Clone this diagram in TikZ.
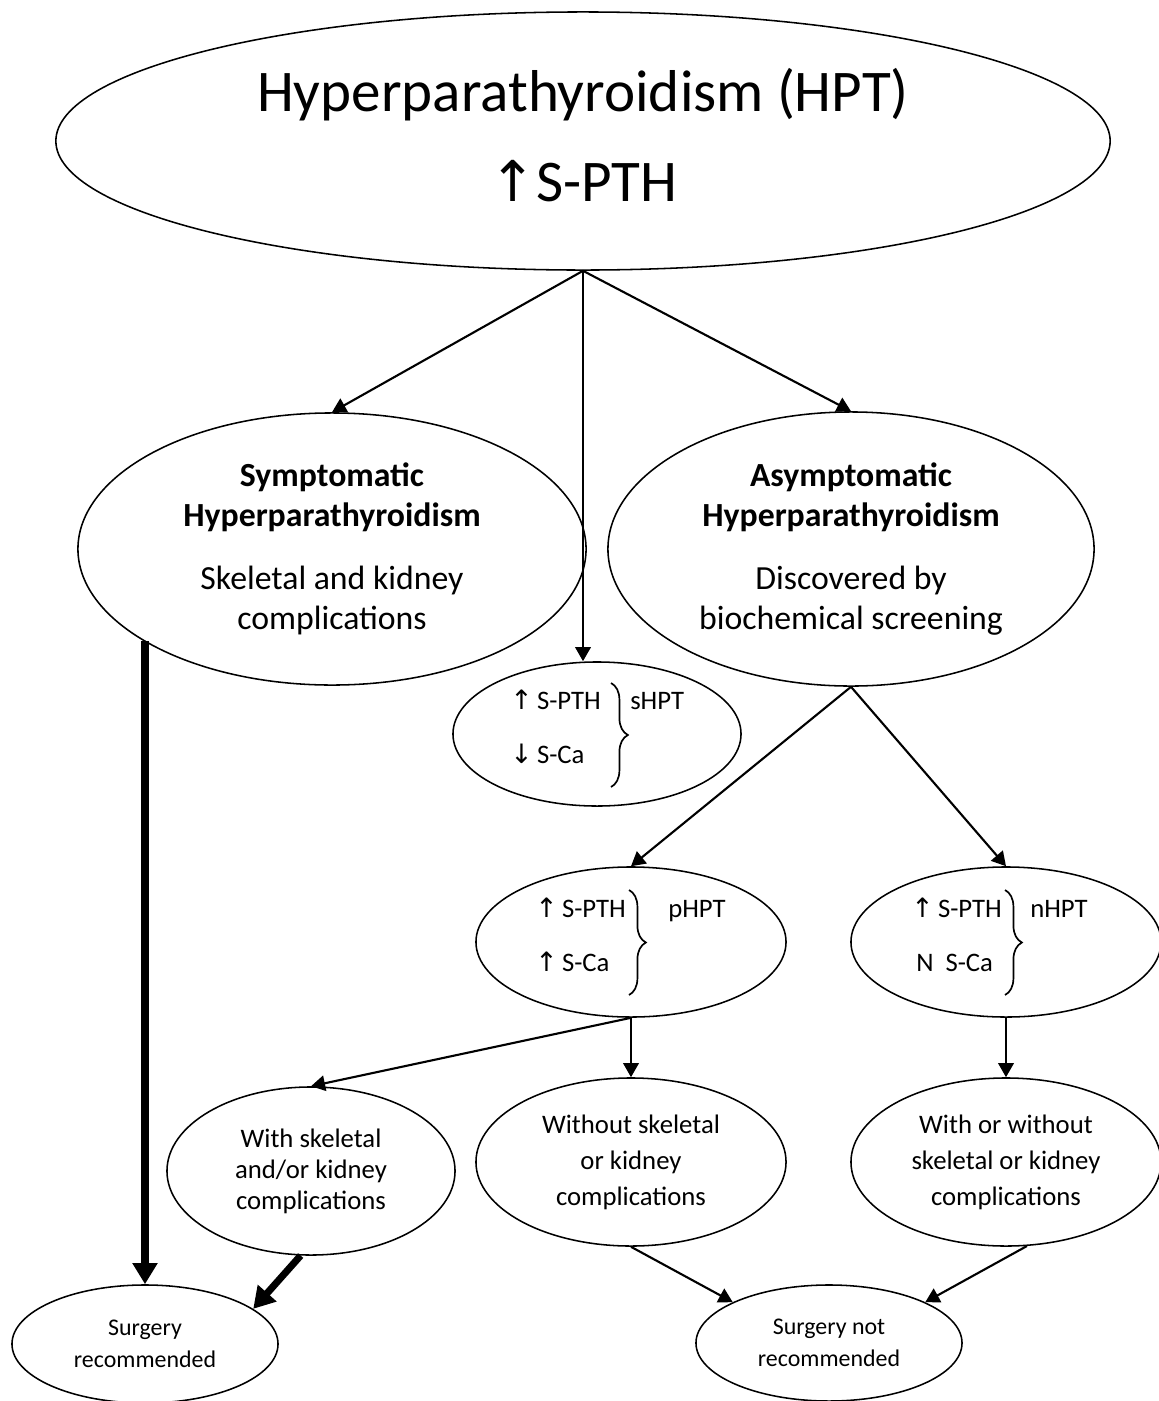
\documentclass[tikz,border=0pt]{standalone}
\usepackage{fontspec}
\setmainfont{Carlito}
\newfontfamily\arrowfont{DejaVu Sans}
\usetikzlibrary{arrows.meta,shapes.geometric,decorations.pathreplacing}

\begin{document}
\begin{tikzpicture}[x=0.025cm, y=-0.025cm, >={Triangle[length=10pt,width=11pt]},
    oval/.style={draw, ellipse, line width=1.1pt, inner sep=0pt, align=center},
    link/.style={->, line width=1.5pt},
    boldlink/.style={-{Triangle[length=15pt,width=17pt]}, line width=5pt},
    lab/.style={anchor=mid west, inner sep=0pt, font=\fontsize{19}{22}\selectfont},
    bracket/.style={decorate, decoration={brace, amplitude=12pt}, line width=1.2pt}]
    \useasboundingbox (0,0) rectangle (1158,1401);
    % top
    \node[oval, minimum width=26.35cm, minimum height=6.45cm, text depth=9pt, font=\fontsize{42}{64}\selectfont] (hpt) at (583,141)
        {Hyperparathyroidism (HPT)\\{\arrowfont\fontsize{40}{64}\selectfont ↑}S-PTH};
    % second row
    \node[oval, minimum width=12.7cm, minimum height=6.8cm, font=\fontsize{24}{28.5}\selectfont] (symp) at (332,549)
        {\textbf{Symptomatic}\\\textbf{Hyperparathyroidism}\\[16.5pt]Skeletal and kidney\\complications};
    \node[oval, minimum width=12.15cm, minimum height=6.85cm, font=\fontsize{24}{28.5}\selectfont] (asym) at (851,549)
        {\textbf{Asymptomatic}\\\textbf{Hyperparathyroidism}\\[16.5pt]Discovered by\\biochemical screening};
    % sHPT
    \node[oval, minimum width=7.2cm, minimum height=3.6cm] (shpt) at (597,734) {};
    \node[lab] (shpt-a) at (510,706) {{\arrowfont ↑}\,S-PTH};
    \node[lab] (shpt-b) at (510,760) {{\arrowfont ↓}\,S-Ca};
    \node[lab] (shpt-c) at (630,706) {sHPT};
    \draw[bracket] (611,683) -- (611,787);
    % pHPT
    \node[oval, minimum width=7.75cm, minimum height=3.75cm] (phpt) at (631,942) {};
    \node[lab] (phpt-a) at (535,914) {{\arrowfont ↑}\,S-PTH};
    \node[lab] (phpt-b) at (535,968) {{\arrowfont ↑}\,S-Ca};
    \node[lab] (phpt-c) at (668,914) {pHPT};
    \draw[bracket] (629,890) -- (629,995);
    % nHPT
    \node[oval, minimum width=7.75cm, minimum height=3.75cm] (nhpt) at (1006,942) {};
    \node[lab] (nhpt-a) at (911,914) {{\arrowfont ↑}\,S-PTH};
    \node[lab] (nhpt-b) at (916,968) {N\ \ S-Ca};
    \node[lab] (nhpt-c) at (1030,914) {nHPT};
    \draw[bracket] (1005,890) -- (1005,995);
    % complications
    \node[oval, minimum width=7.2cm, minimum height=4.2cm, font=\fontsize{19}{22}\selectfont] (withsk) at (311,1171)
        {With skeletal\\and/or kidney\\complications};
    \node[oval, minimum width=7.75cm, minimum height=4.2cm, font=\fontsize{19}{25.6}\selectfont] (without) at (631,1162)
        {Without skeletal\\or kidney\\complications};
    \node[oval, minimum width=7.75cm, minimum height=4.2cm, font=\fontsize{19}{25.6}\selectfont] (withor) at (1006,1162)
        {With or without\\skeletal or kidney\\complications};
    % surgery
    \node[oval, minimum width=6.65cm, minimum height=2.95cm, font=\fontsize{17}{22.8}\selectfont] (srec) at (145,1344)
        {Surgery\\recommended};
    \node[oval, minimum width=6.65cm, minimum height=2.9cm, font=\fontsize{17}{22.8}\selectfont] (snr) at (829,1343)
        {Surgery not\\recommended};
    % arrows
    \draw[link] (hpt.south) -- (symp.north);
    \draw[link] (hpt.south) -- (hpt.south |- shpt.north);
    \draw[link] (hpt.south) -- (asym.north);
    \draw[link] (asym.south) -- (phpt.north);
    \draw[link] (asym.south) -- (nhpt.north);
    \draw[link] (phpt.south) -- (withsk.north);
    \draw[link] (phpt.south) -- (without.north);
    \draw[link] (nhpt.south) -- (withor.north);
    \draw[link] (without.south) -- (snr.157);
    \draw[link] (withor.284) -- (snr.23);
    \draw[boldlink] (symp.206 -| srec.north) -- (srec.north);
    \draw[boldlink] (withsk.263) -- (srec.18);
\end{tikzpicture}
\end{document}
